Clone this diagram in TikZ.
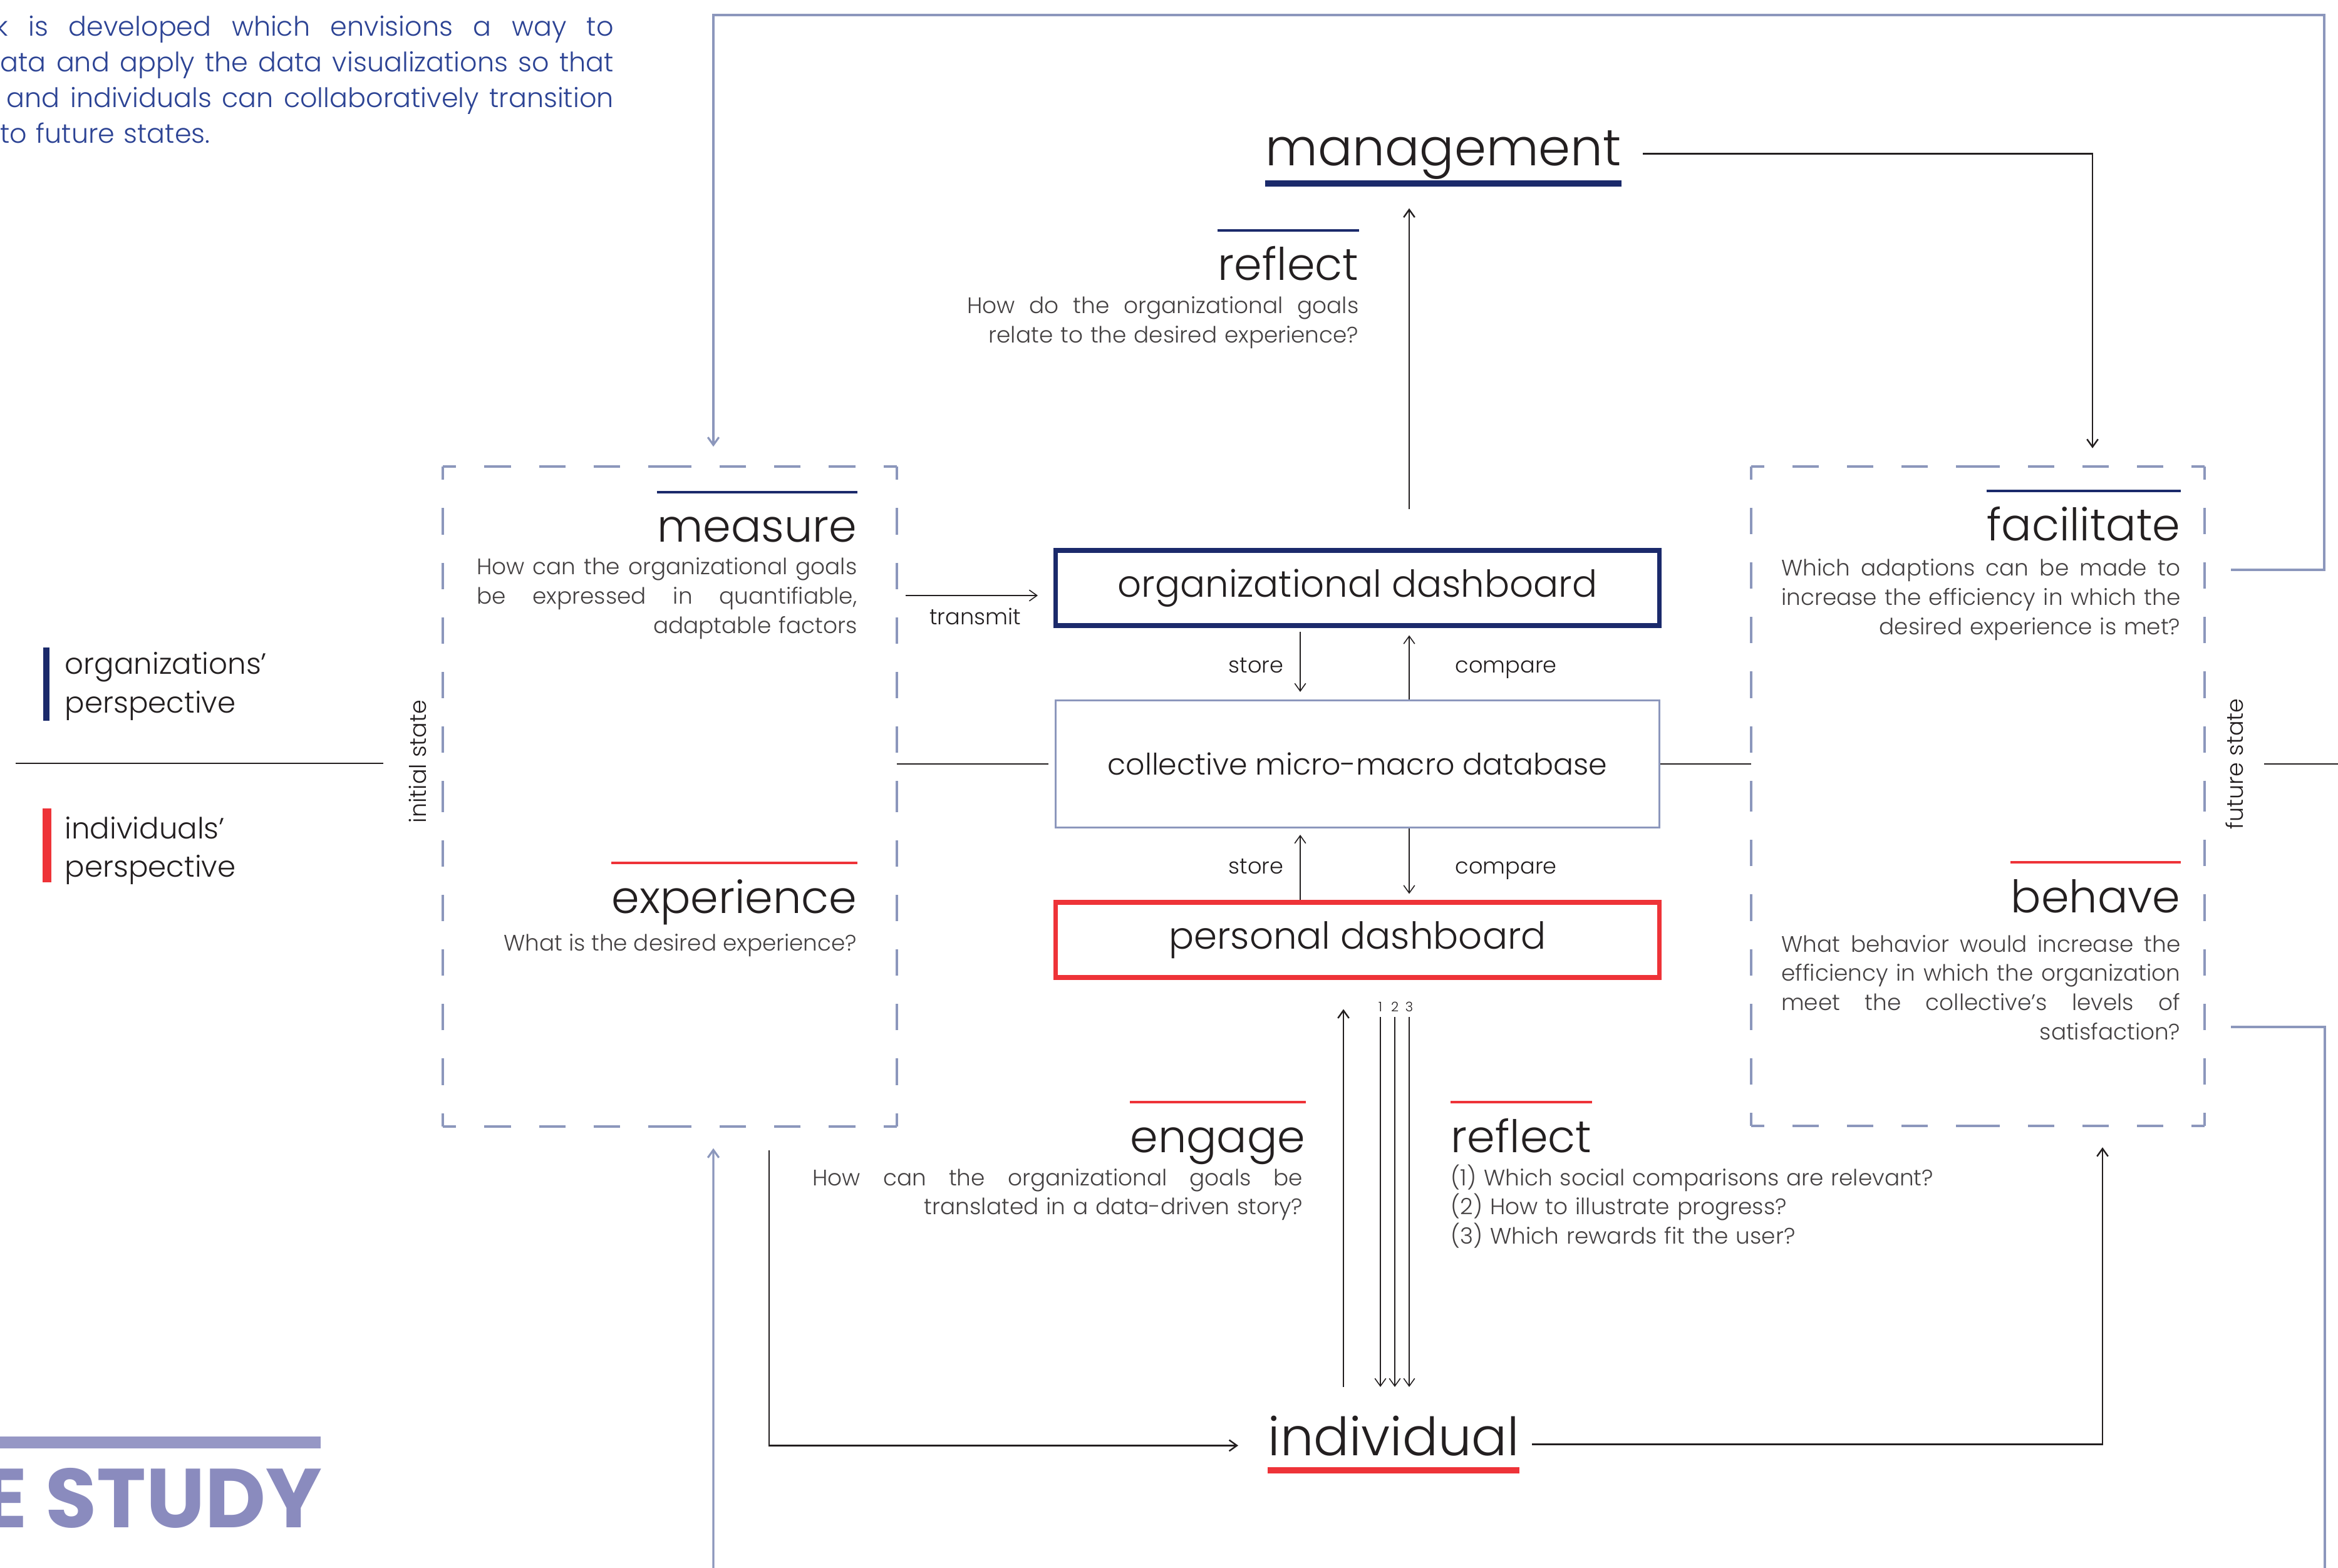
\documentclass[tikz,border=0pt]{standalone}
\usepackage{fontspec}
\setmainfont{Poppins}[UprightFont=* Light]
\newfontfamily\studyfont{Poppins}
\usetikzlibrary{arrows.meta}
\definecolor{orgblue}{HTML}{1B2A6B}
\definecolor{indred}{HTML}{EE3338}
\definecolor{slate}{HTML}{8C97BC}
\definecolor{ink}{HTML}{231F20}
\definecolor{prose}{HTML}{2C4394}
\definecolor{lavender}{HTML}{8A8BBE}
\newcommand{\spreadto}[2]{\makebox[#1][s]{\spaceskip=\fontdimen2\font plus 1fil\relax#2}}
\newcommand{\spread}[1]{\spreadto{\hsize}{#1}}
\newcommand{\fsz}[2]{\fontsize{#1}{#2}\selectfont}

\begin{document}
\begin{tikzpicture}[x=1cm, y=-1cm, >={Straight Barb[length=3.5pt,width=5pt]},
	every node/.style={inner sep=0pt, text=ink},
	bigword/.style={font=\fsz{24pt}{24pt}},
	headword/.style={font=\fsz{20.4pt}{21pt}},
	smallword/.style={font=\fsz{10pt}{12pt}},
	ask/.style={font=\fsz{10.2pt}{13.3pt}, text=ink!85},
	dashbox/.style={minimum width=7.23cm, minimum height=10.52cm},
	dashside/.style={draw=slate, line width=1.2pt, dash pattern=on 12pt off 12.8pt, dash phase=6pt},
	board/.style={minimum width=9.64cm, minimum height=1.2cm, line width=2pt, font=\fsz{16.9pt}{20pt}},
	link/.style={draw=ink, line width=0.7pt},
	thinlink/.style={draw=ink, line width=0.45pt},
	loopline/.style={draw=slate, line width=0.9pt}]
	\useasboundingbox (0,0) rectangle (37.33,25.04);
	\clip (0,0) rectangle (37.33,25.04);

	\node[anchor=base west, text width=9.87cm, align=left, text=prose, font=\fsz{12.2pt}{16.2pt}] (intro) at (-0.08,0.58) {\spread{k is developed which envisions a way to}\\
		\hspace*{.08cm}\spreadto{9.79cm}{ata and apply the data visualizations so that}\\
		\hspace*{.18cm}\spreadto{9.69cm}{and individuals can collaboratively transition}\\
		\hspace*{.08cm}to future states.};

	\node[bigword, font=\fsz{23.3pt}{24pt}, anchor=base west] (mgmt) at (20.20,2.65) {management};
	\draw[orgblue, line width=2.6pt] ([yshift=-.28cm]mgmt.base west) -- ([yshift=-.28cm]mgmt.base east);
	\node[bigword, anchor=base west] (indiv) at (20.24,23.24) {individual};
	\draw[indred, line width=3.1pt] ([yshift=-.24cm]indiv.base west) -- ([yshift=-.24cm]indiv.base east);

	\node[dashbox] (initbox) at (10.695,12.72) {};
	\node[dashbox] (futbox) at (31.58,12.715) {};
	\foreach \b in {initbox,futbox}
		\foreach \c/\m in {north west/north, north east/north, north east/east, south east/east, south east/south, south west/south, south west/west, north west/west}
			\draw[dashside] (\b.\c) -- (\b.\m);

	\node[board, draw=orgblue] (orgdash) at (21.675,9.39) {organizational dashboard};
	\node[board, draw=slate, line width=0.9pt, minimum height=2.03cm, font=\fsz{13.5pt}{16pt}] (db) at (21.675,12.20) {collective micro-macro database};
	\node[board, draw=indred] (pers) at (21.675,15.01) {personal dashboard};

	\node[headword, anchor=base east] (reflorg) at (21.70,4.48) {reflect};
	\node[ask, anchor=base east, text width=6.25cm, align=right] (reflorgq) at (21.70,5.01) {\spread{How do the organizational goals}\\relate to the desired experience?};
	\node[headword, anchor=base east] (meas) at (13.69,8.66) {measure};
	\node[ask, anchor=base east, text width=6.07cm, align=right] (measq) at (13.69,9.18) {\spread{How can the organizational goals}\\\spread{be expressed in quantifiable,}\\adaptable factors};
	\node[headword, anchor=base east] (expe) at (13.69,14.58) {experience};
	\node[ask, anchor=base east] (expeq) at (13.69,15.18) {What is the desired experience?};
	\node[headword, anchor=base east] (faci) at (34.82,8.64) {facilitate};
	\node[ask, anchor=base east, text width=6.37cm, align=right] (faciq) at (34.82,9.20) {\spread{Which adaptions can be made to}\\\spread{increase the efficiency in which the}\\desired experience is met?};
	\node[headword, anchor=base east] (beha) at (34.82,14.57) {behave};
	\node[ask, anchor=base east, text width=6.37cm, align=right] (behaq) at (34.82,15.20) {\spread{What behavior would increase the}\\\spread{efficiency in which the organization}\\\spread{meet the collective’s levels of}\\satisfaction?};
	\node[headword, anchor=base east] (enga) at (20.85,18.40) {engage};
	\node[ask, anchor=base east, text width=7.83cm, align=right] (engaq) at (20.81,18.93) {\spread{How can the organizational goals be}\\translated in a data-driven story?};
	\node[headword, anchor=base west] (reflind) at (23.16,18.40) {reflect};
	\node[ask, anchor=base west, text width=8cm, align=left] (reflindq) at (23.16,18.93) {(1) Which social comparisons are relevant?\\(2) How to illustrate progress?\\(3) Which rewards fit the user?};
	\foreach \n/\c in {reflorg/orgblue, meas/orgblue, faci/orgblue, expe/indred, beha/indred, enga/indred, reflind/indred}
		\draw[\c, line width=1pt] ([yshift=.8cm]\n.base west) -- ([yshift=.8cm]\n.base east);

	\draw[orgblue, line width=3pt] (0.74,10.34) -- (0.74,11.51);
	\draw[indred, line width=4pt] (0.75,12.91) -- (0.75,14.09);
	\node[anchor=base west, text width=5cm, align=left, font=\fsz{13.3pt}{17.4pt}] (orgview) at (1.03,10.77) {organizations’\\perspective};
	\node[anchor=base west, text width=5cm, align=left, font=\fsz{13.3pt}{17.4pt}] (indview) at (1.03,13.39) {individuals’\\perspective};

	\node[smallword, font=\fsz{10.4pt}{12pt}, rotate=90] (initlabel) at (6.67,12.16) {initial state};
	\node[smallword, font=\fsz{10.4pt}{12pt}, rotate=90] (futlabel) at (35.68,12.20) {future state};
	\coordinate (leftend) at (0.25,12.19);
	\coordinate (rightend) at (37.4,12.20);
	\draw[link, shorten >=0.4cm] (leftend) -- (leftend -| initlabel.north);
	\draw[link, shorten <=0.32cm] (rightend -| futlabel.south) -- (rightend);
	\draw[link, shorten >=0.1cm] (db.west -| initbox.east) -- (db.west);
	\draw[link] (db.east) -- (db.east -| futbox.west);

	\coordinate (tx) at ([yshift=-.12cm]orgdash.west);
	\draw[thinlink, ->, shorten <=0.14cm, shorten >=0.25cm] (tx -| initbox.east) -- (tx);
	\node[smallword, anchor=base] (transmit) at (15.57,9.98) {transmit};

	\coordinate (colL) at (20.76,0);
	\coordinate (colR) at (22.50,0);
	\coordinate (colU) at (21.45,0);
	\draw[thinlink, ->, shorten <=0.06cm, shorten >=0.12cm] (orgdash.south -| colL) -- (db.north -| colL);
	\draw[thinlink, ->, shorten >=0.12cm] (db.north -| colR) -- (orgdash.south -| colR);
	\draw[thinlink, ->, shorten >=0.1cm] (pers.north -| colL) -- (db.south -| colL);
	\draw[thinlink, ->, shorten >=0.1cm] (db.south -| colR) -- (pers.north -| colR);
	\node[smallword, anchor=base east] (store) at (20.50,10.75) {store};
	\node[smallword, anchor=base west] (compare) at (23.23,10.75) {compare};
	\node[smallword, anchor=base east] (storeb) at (20.50,13.95) {store};
	\node[smallword, anchor=base west] (compareb) at (23.23,13.95) {compare};

	\draw[link, ->, shorten <=0.62cm, shorten >=0.45cm] (orgdash.north -| colR) -- (mgmt.south -| colR);
	\draw[link, ->, shorten <=0.34cm, shorten >=0.29cm] ([yshift=.1cm]mgmt.mid east) -| ([xshift=1.83cm]futbox.north);
	\draw[link, ->, shorten <=0.45cm, shorten >=0.47cm] (indiv.north -| colU) -- (pers.south -| colU);
	\foreach \i/\x in {1/22.04, 2/22.27, 3/22.50} {
		\node[font=\fsz{6pt}{6pt}] (d\i) at (\x,16.08) {\i};
		\draw[thinlink, ->, shorten <=0.08cm, shorten >=0.45cm] (d\i.south) -- (indiv.north -| d\i);
	}
	\draw[link, ->, shorten <=0.2cm, shorten >=0.34cm] ([yshift=.08cm]indiv.mid east) -| ([xshift=1.99cm]futbox.south);
	\draw[link, ->, shorten <=0.38cm, shorten >=0.47cm] ([xshift=1.585cm]initbox.south) |- ([yshift=.06cm]indiv.mid west);

	\coordinate (loopa) at (35.62,9.10);
	\coordinate (loopb) at (11.39,25.2);
	\coordinate (loopc) at (35.62,16.40);
	\draw[loopline, ->, shorten >=0.32cm] (loopa) -| (37.11,0.24) -| ([xshift=.695cm]initbox.north);
	\draw[loopline, ->, shorten >=0.35cm] (loopb) -- ([xshift=.695cm]initbox.south);
	\draw[loopline] (loopc) -| (37.12,25.2);

	\draw[lavender!90!white, line width=5.4pt] (0,23.03) -- (5.12,23.03);
	\node[anchor=base west, text=lavender, font=\studyfont\bfseries\fsz{38pt}{38pt}] (study) at (-0.29,24.39) {E STUDY};
\end{tikzpicture}
\end{document}
